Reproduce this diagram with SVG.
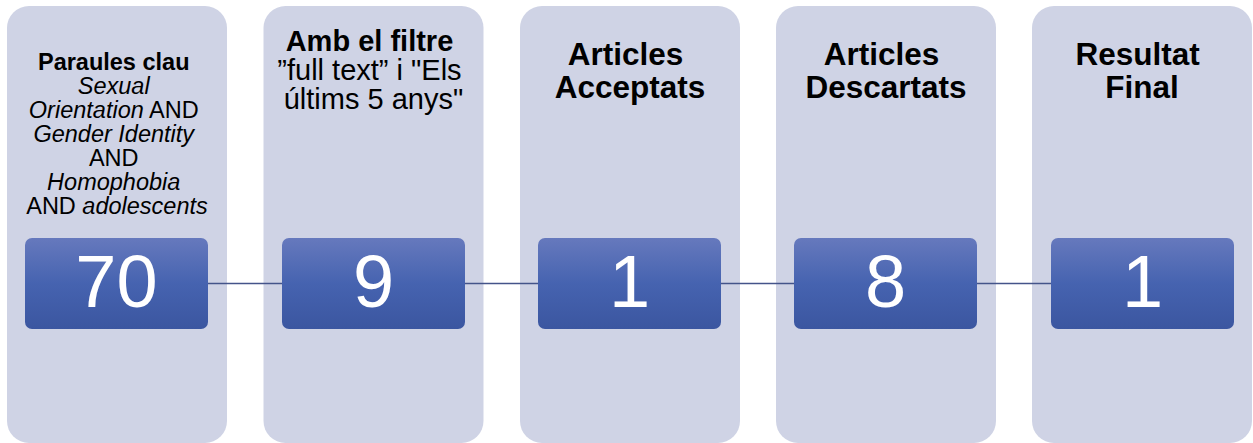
<svg xmlns="http://www.w3.org/2000/svg" width="1253" height="443" viewBox="0 0 1253 443">
<style>
.col{fill:#cfd3e5}
.box{fill:url(#g)}
.t{font-family:"Liberation Sans",Arial,sans-serif;fill:#000;text-anchor:middle}
.b{font-weight:bold}
.num{font-family:"Liberation Sans",Arial,sans-serif;fill:#fff;text-anchor:middle;font-size:74px}
.c{stroke:#44548a;stroke-width:1.5;fill:none}
</style>
<defs>
<linearGradient id="g" x1="0" y1="0" x2="0" y2="1">
<stop offset="0" stop-color="#6679bd"/>
<stop offset="0.5" stop-color="#4663b0"/>
<stop offset="1" stop-color="#3b56a0"/>
</linearGradient>
</defs>
<rect x="0" y="0" width="1253" height="443" fill="#fff"/>
<g id="columns">
<rect class="col" x="7" y="6" width="220" height="437" rx="22"/>
<rect class="col" x="263.5" y="6" width="220" height="437" rx="22"/>
<rect class="col" x="520" y="6" width="220" height="437" rx="22"/>
<rect class="col" x="776" y="6" width="220" height="437" rx="22"/>
<rect class="col" x="1032" y="6" width="220" height="437" rx="22"/>
</g>
<g id="connectors">
<line class="c" x1="208" y1="283.5" x2="282" y2="283.5"/>
<line class="c" x1="465" y1="283.5" x2="538" y2="283.5"/>
<line class="c" x1="721" y1="283.5" x2="794" y2="283.5"/>
<line class="c" x1="977" y1="283.5" x2="1051" y2="283.5"/>
</g>
<g id="node1">
<text class="t" font-size="23.5">
<tspan class="b" x="117" y="70">Paraules clau</tspan>
<tspan x="117" y="94" font-style="italic">Sexual</tspan>
<tspan x="117" y="118"><tspan font-style="italic">Orientation</tspan> AND</tspan>
<tspan x="117" y="142" font-style="italic">Gender Identity</tspan>
<tspan x="117" y="166">AND</tspan>
<tspan x="117" y="190" font-style="italic">Homophobia</tspan>
<tspan x="117" y="214">AND <tspan font-style="italic">adolescents</tspan></tspan>
</text>
<rect class="box" x="25" y="238" width="183" height="91" rx="7"/>
<text class="num" x="116.5" y="307">70</text>
</g>
<g id="node2">
<text class="t" font-size="29">
<tspan class="b" x="373.5" y="51">Amb el filtre</tspan>
<tspan x="373.5" y="80">”full text” i "Els</tspan>
<tspan x="373.5" y="109">últims 5 anys"</tspan>
</text>
<rect class="box" x="282" y="238" width="183" height="91" rx="7"/>
<text class="num" x="373.5" y="307">9</text>
</g>
<g id="node3">
<text class="t b" font-size="31.5">
<tspan x="630" y="65">Articles</tspan>
<tspan x="630" y="98">Acceptats</tspan>
</text>
<rect class="box" x="538" y="238" width="183" height="91" rx="7"/>
<text class="num" x="629.5" y="307">1</text>
</g>
<g id="node4">
<text class="t b" font-size="31.5">
<tspan x="886" y="65">Articles</tspan>
<tspan x="886" y="98">Descartats</tspan>
</text>
<rect class="box" x="794" y="238" width="183" height="91" rx="7"/>
<text class="num" x="885.5" y="307">8</text>
</g>
<g id="node5">
<text class="t b" font-size="31.5">
<tspan x="1142" y="65">Resultat</tspan>
<tspan x="1142" y="98">Final</tspan>
</text>
<rect class="box" x="1051" y="238" width="183" height="91" rx="7"/>
<text class="num" x="1142.5" y="307">1</text>
</g>
</svg>
